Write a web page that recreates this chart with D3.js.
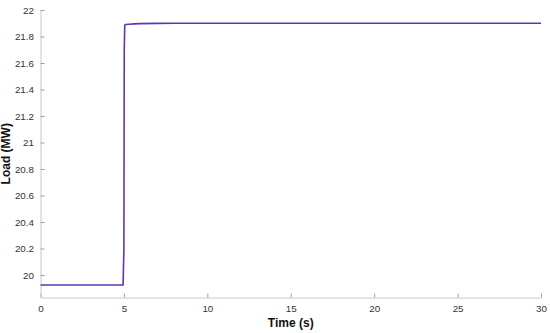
<!DOCTYPE html>
<html><head><meta charset="utf-8">
<script src="https://cdn.jsdelivr.net/npm/d3@7"></script>
<style>body{margin:0;background:#fff}svg{display:block}text{font-family:Arial,"Liberation Sans",Helvetica,sans-serif}</style>
</head><body><svg id="c" width="550" height="333"></svg>
<script>
const timeS = [0, 4.95, 5.0, 5.02, 5.05, 5.1, 5.3, 5.6, 6.0, 7.0, 8.0, 10, 15, 20, 25, 30];
const loadMW = [19.925, 19.925, 20.2, 21.7, 21.885, 21.89, 21.893, 21.895, 21.897, 21.899, 21.9, 21.9, 21.9, 21.9, 21.9, 21.9];
const xTicks = [0, 5, 10, 15, 20, 25, 30];
const yTicks = [20, 20.2, 20.4, 20.6, 20.8, 21, 21.2, 21.4, 21.6, 21.8, 22];

const svg = d3.select("#c");
const L = 40.5, R = 541, T = 10, B = 297.5;
const x = d3.scaleLinear().domain([0, 30]).range([L, R]);
const y = d3.scaleLinear().domain([19.8302, 22]).range([B, T]);

const gx = svg.append("g").attr("transform", `translate(0,${B})`)
  .call(d3.axisBottom(x).tickValues(xTicks).tickSizeInner(-4).tickSizeOuter(0).tickPadding(8).tickFormat(d3.format("d")));
const gy = svg.append("g").attr("transform", `translate(${L},0)`)
  .call(d3.axisLeft(y).tickValues(yTicks).tickSizeInner(-4).tickSizeOuter(0).tickPadding(6.5).tickFormat(d => d3.format("")(+d.toFixed(1))));
[gx, gy].forEach(g => {
  g.select(".domain").attr("stroke", "#c8c8c8").attr("stroke-width", 1);
  g.selectAll(".tick line").attr("stroke", "#a0a0a0");
  g.selectAll(".tick text").attr("fill", "#333").attr("font-size", 9.8);
});

svg.append("path").datum(timeS.map((t, i) => [t, loadMW[i]]))
  .attr("fill", "none").attr("stroke", "#5e35b8").attr("stroke-width", 1.6)
  .attr("d", d3.line().x(d => x(d[0])).y(d => y(d[1])));

svg.append("text").attr("x", (L + R) / 2).attr("y", 327).attr("text-anchor", "middle")
  .attr("font-size", 12).attr("font-weight", "bold").attr("fill", "#111").text("Time (s)");
svg.append("text").attr("transform", `translate(10,${(T + B) / 2}) rotate(-90)`).attr("text-anchor", "middle")
  .attr("font-size", 12).attr("font-weight", "bold").attr("fill", "#111").text("Load (MW)");
</script></body></html>
